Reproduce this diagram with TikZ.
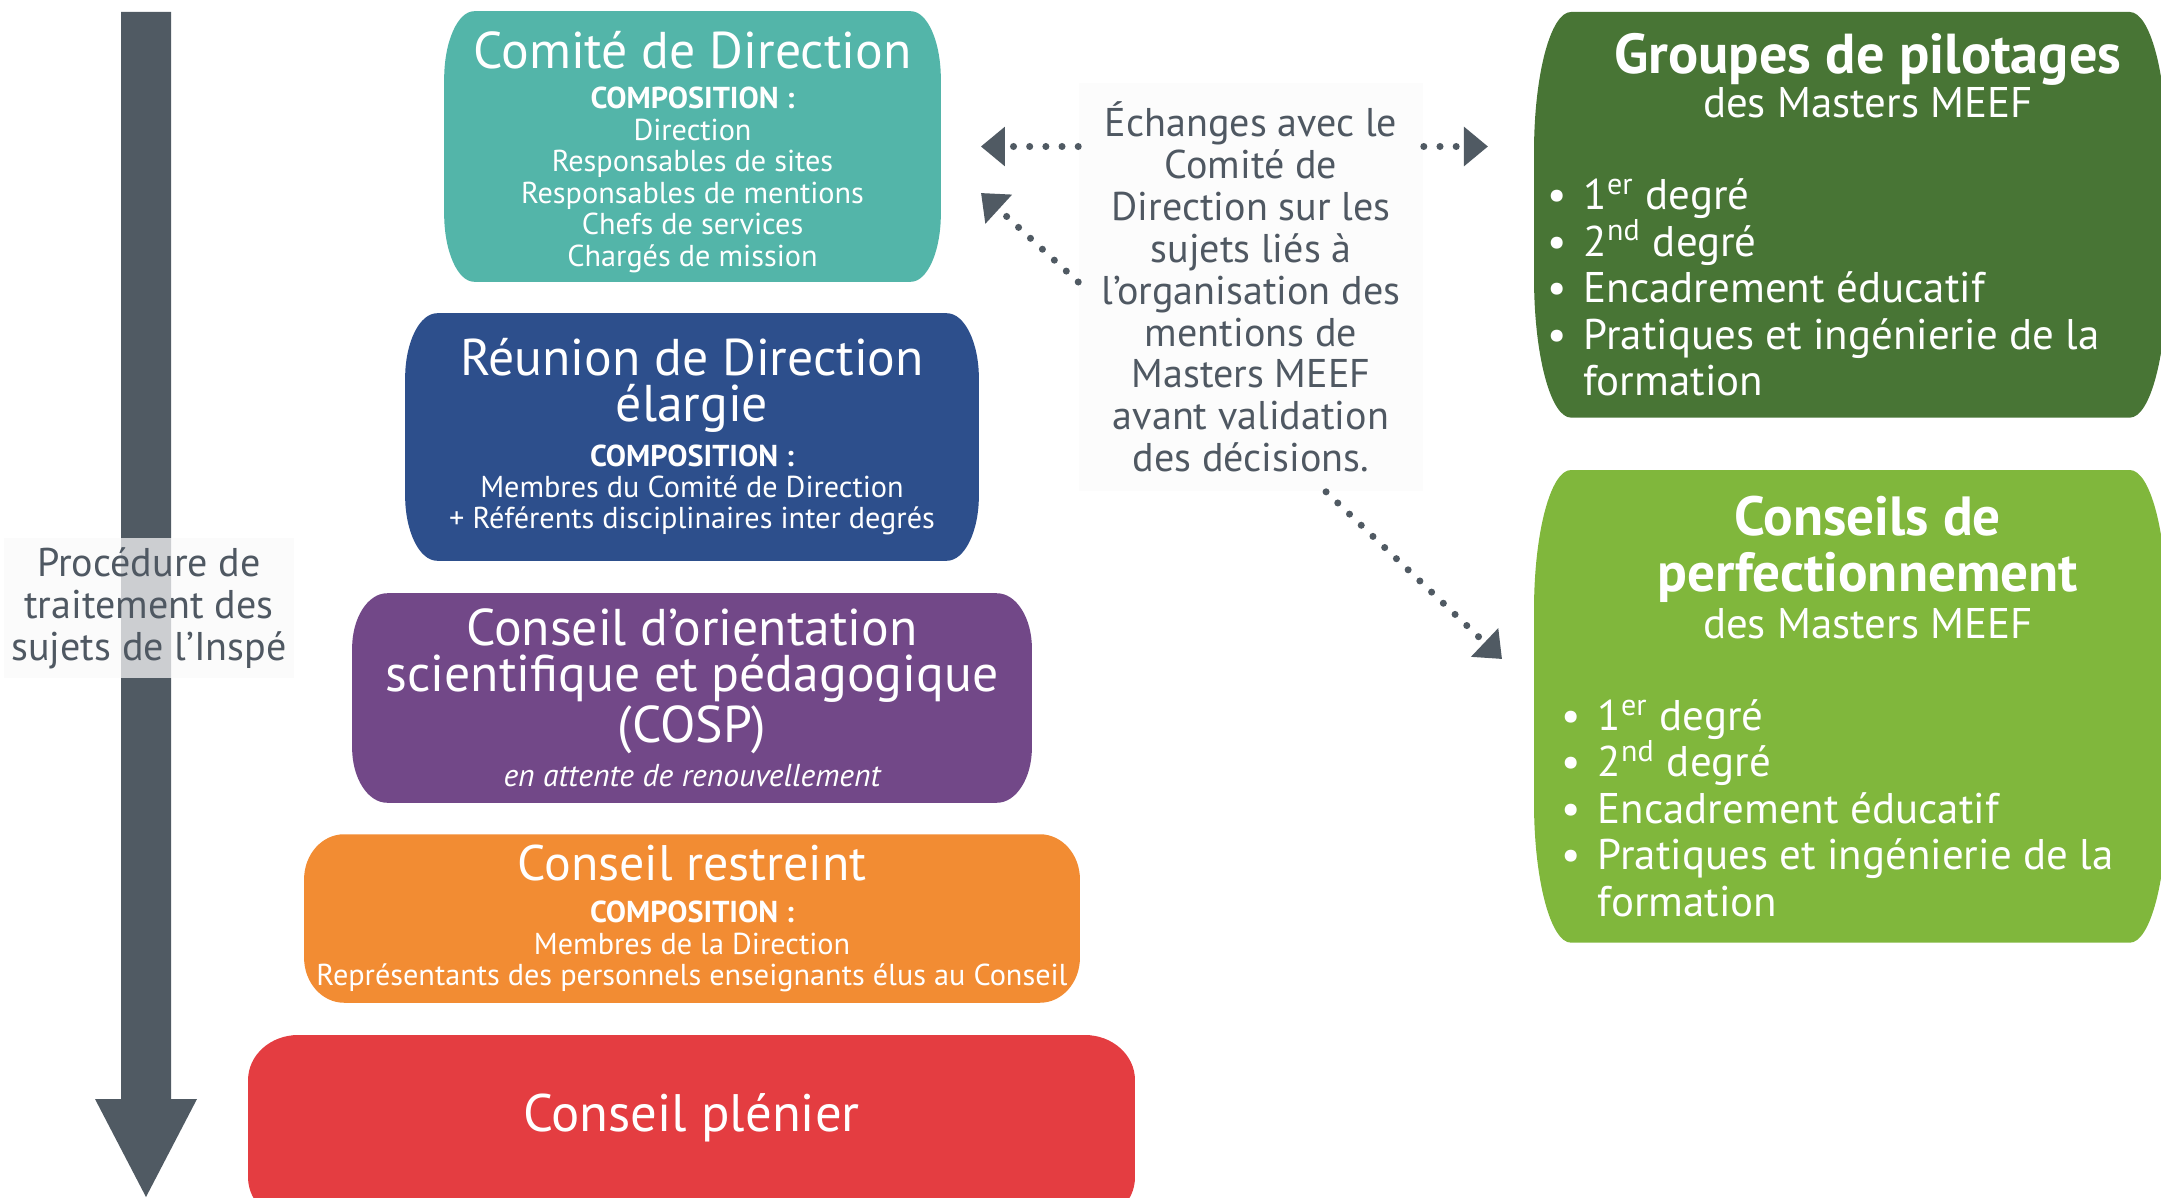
\documentclass[tikz,border=0pt]{standalone}
\usepackage{fontspec}
\setmainfont{PT Sans}
\usepackage{xcolor}
\usepackage{tikz}
\usetikzlibrary{shapes,arrows,arrows.meta,positioning,calc,backgrounds}

\definecolor{slategrey}{RGB}{80,90,99}
\definecolor{notegrey}{RGB}{79,88,98}
\definecolor{comitecol}{RGB}{83,181,169}
\definecolor{reunioncol}{RGB}{45,79,140}
\definecolor{cospcol}{RGB}{114,72,136}
\definecolor{restreintcol}{RGB}{242,140,51}
\definecolor{pleniercol}{RGB}{228,61,65}
\definecolor{pilotagecol}{RGB}{72,117,53}
\definecolor{perfcol}{RGB}{128,183,60}

\newcommand{\bigtitle}{\fontsize{14.7}{13}\selectfont}
\newcommand{\smalltext}{\fontsize{8.6}{8.95}\selectfont}
\newcommand{\itemtext}{\fontsize{12.2}{13.2}\selectfont}
\newcommand{\puce}{\makebox[0.36cm][l]{\textbullet}}

% box with oval corners drawn round a node
\newcommand{\softbox}[4]{%
  \fill[#4] ($(#1.north west)+(0,-#3)$)
    arc[start angle=180, end angle=90, x radius=#2, y radius=#3]
    -- ($(#1.north east)+(-#2,0)$)
    arc[start angle=90, end angle=0, x radius=#2, y radius=#3]
    -- ($(#1.south east)+(0,#3)$)
    arc[start angle=0, end angle=-90, x radius=#2, y radius=#3]
    -- ($(#1.south west)+(#2,0)$)
    arc[start angle=270, end angle=180, x radius=#2, y radius=#3]
    -- cycle;
}

\tikzset{
  instance/.style={text=white, align=flush center, inner sep=0pt},
  groupe/.style={text=white, align=flush left, inner sep=0pt, anchor=north west},
  note/.style={text=notegrey, align=center, inner sep=0pt,
               font=\fontsize{11.4}{11.9}\selectfont},
  dotarrow/.style={draw=slategrey, line width=2pt, line cap=round,
                   dash pattern=on 0pt off 4.6pt,
                   -{Triangle[length=0.24cm,width=0.38cm]}},
}

\begin{document}
\begin{tikzpicture}[x=0.01cm,y=0.01cm]
  \useasboundingbox (0,0) rectangle (2161,-1197);

  % instances, from top to bottom
  \node[instance, text width=4.95cm, minimum height=2.69cm] (comite) at (692.5,-146.5) {
    {\bigtitle Comité de Direction\par}
    \vspace{2.4pt}
    {\smalltext\textbf{COMPOSITION :}\\Direction\\Responsables de sites\\
     Responsables de mentions\\Chefs de services\\Chargés de mission\par}
    \kern-0.11cm
  };
  \node[instance, text width=5.72cm, minimum height=2.46cm] (reunion) at (692,-437) {
    {\bigtitle Réunion de Direction\\élargie\par}
    \vspace{2.4pt}
    {\smalltext\textbf{COMPOSITION :}\\Membres du Comité de Direction\\
     + Référents disciplinaires inter degrés\par}
  };
  \node[instance, text width=6.78cm, minimum height=2.08cm] (cosp) at (692,-698) {
    {\bigtitle Conseil d’orientation\\scientifique et pédagogique\\(COSP)\par}
    \vspace{2pt}
    {\fontsize{9}{9}\selectfont\itshape en attente de renouvellement\par}
  };
  \node[instance, text width=7.74cm, minimum height=1.67cm] (restreint) at (692,-918.5) {
    {\fontsize{14.2}{13}\selectfont Conseil restreint\par}
    \vspace{3.2pt}
    {\smalltext\textbf{COMPOSITION :}\\Membres de la Direction\\
     Représentants des personnels enseignants élus au Conseil\par}
  };
  \node[instance, text width=8.85cm, anchor=north, text height=0.96cm, text depth=0.9cm]
    (plenier) at (691.5,-1035) {\fontsize{15}{15}\selectfont Conseil plénier};

  % masters groups on the right
  \node[groupe, text width=6.31cm, minimum height=4.04cm] (pilotage) at (1534,-12) {
    {\centering\hspace*{0.35cm}\bfseries\fontsize{16}{14}\selectfont Groupes de pilotages\par}
    {\centering\hspace*{0.35cm}\fontsize{12.2}{12.5}\selectfont des Masters MEEF\par}
    \vspace{13pt}
    {\leftskip=0.13cm\itemtext
     \puce 1\textsuperscript{er} degré\\
     \puce 2\textsuperscript{nd} degré\\
     \puce Encadrement éducatif\\
     \puce Pratiques et ingénierie de la\\
     \hspace*{0.36cm}formation\par}
  };
  \node[groupe, text width=6.31cm, minimum height=4.71cm] (perf) at (1534,-470) {
    {\centering\bfseries\fontsize{15.7}{15.9}\selectfont
     \hspace*{0.35cm}Conseils de\\\hspace*{0.35cm}perfectionnement\par}
    {\centering\hspace*{0.35cm}\fontsize{12.2}{13.3}\selectfont des Masters MEEF\par}
    \vspace{13pt}
    {\leftskip=0.27cm\itemtext
     \puce 1\textsuperscript{er} degré\\
     \puce 2\textsuperscript{nd} degré\\
     \puce Encadrement éducatif\\
     \puce Pratiques et ingénierie de la\\
     \hspace*{0.36cm}formation\par}
  };

  % notes
  \node[note, fill=gray!2.5, minimum width=3.44cm, minimum height=4.08cm] (echanges) at (1251,-287)
    {Échanges avec le\\Comité de\\Direction sur les\\sujets liés à\\l’organisation des\\
     mentions de\\Masters MEEF\\avant validation\\des décisions.};
  \node[note, fill=gray!4, fill opacity=0.73, text opacity=1, minimum width=2.9cm,
        minimum height=1.4cm] (procedure) at (149,-608)
    {Procédure de\\traitement des\\sujets de l’Inspé};

  % exchanges
  \coordinate (cdlink) at (981,-193);
  \coordinate (perflink) at (1502,-659);
  \draw[dotarrow, shorten >=0.4cm] (echanges.west |- comite.east) -- (comite.east);
  \draw[dotarrow, shorten >=0.46cm] (echanges.east |- comite.east) -- (pilotage.west |- comite.east);
  \draw[dotarrow] (echanges.west |- 0,-282) -- (cdlink);
  \draw[dotarrow] ([xshift=0.75cm]echanges.south) -- (perflink);

  \begin{scope}[on background layer]
    % procedure arrow
    \fill[slategrey] (121,-12) -- (171,-12) -- (171,-1099) -- (197,-1099)
      -- (146,-1197) -- (95,-1099) -- (121,-1099) -- cycle;
    \softbox{comite}{0.3cm}{0.68cm}{comitecol}
    \softbox{reunion}{0.32cm}{0.65cm}{reunioncol}
    \softbox{cosp}{0.35cm}{0.55cm}{cospcol}
    \softbox{restreint}{0.4cm}{0.45cm}{restreintcol}
    \softbox{plenier}{0.5cm}{0.45cm}{pleniercol}
    \softbox{pilotage}{0.37cm}{1.4cm}{pilotagecol}
    \softbox{perf}{0.37cm}{1.4cm}{perfcol}
  \end{scope}
\end{tikzpicture}
\end{document}
